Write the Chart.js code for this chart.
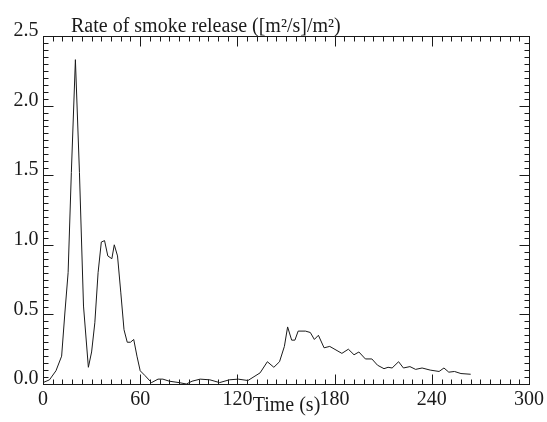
<!DOCTYPE html>
<html>
<head>
<meta charset="utf-8">
<script src="https://cdn.jsdelivr.net/npm/chart.js@4.4.0/dist/chart.umd.min.js"></script>
<style>
	html, body { margin: 0; padding: 0; background: #fff; }
	#wrap { width: 547px; height: 422px; position: relative; }
</style>
</head>
<body>
<div id="wrap"><canvas id="smoke_chart"></canvas></div>
<script>
// 시간(s)
const times = [0, 4, 8, 11.5, 13.5, 15.5, 17.5, 20, 22.5, 25, 28, 30, 32, 34, 36, 38, 40, 42.5, 44, 46,
	48, 50, 52, 54, 56, 58, 60, 63, 67, 71, 74, 78, 84, 88.5, 92, 97, 103, 109, 115, 120.5,
	126.5, 134, 138.5, 142.5, 146, 149, 151, 153.5, 155.5, 157.5, 162, 165, 167.5, 170, 173.5, 177, 181.5, 184.5, 188.5, 192,
	195, 199, 203, 206.5, 210.5, 213, 215.5, 219.5, 222.5, 226.5, 230, 234, 239, 244.5, 247.5, 250.5, 254, 258, 264];
// 연기 발생률 ([m²/s]/m²)
const rates = [0.01, 0.03, 0.095, 0.20, 0.51, 0.80, 1.52, 2.33, 1.52, 0.56, 0.12, 0.23, 0.44, 0.80, 1.02, 1.03, 0.92, 0.90, 1.00, 0.92,
	0.66, 0.39, 0.30, 0.30, 0.32, 0.20, 0.095, 0.06, 0.01, 0.035, 0.035, 0.02, 0.01, 0.0, 0.02, 0.035, 0.03, 0.01, 0.03, 0.035,
	0.025, 0.08, 0.16, 0.12, 0.16, 0.27, 0.41, 0.315, 0.315, 0.38, 0.38, 0.37, 0.32, 0.35, 0.26, 0.27, 0.24, 0.22, 0.25, 0.21,
	0.23, 0.18, 0.18, 0.135, 0.11, 0.12, 0.115, 0.16, 0.115, 0.125, 0.105, 0.115, 0.10, 0.09, 0.115, 0.085, 0.09, 0.075, 0.07];

// 눈금 라벨
const x_ticks = [0, 60, 120, 180, 240, 300];
const y_ticks = [0.0, 0.5, 1.0, 1.5, 2.0, 2.5];
const x_minor_step = 6;
const y_minor_step = 0.05;

const chart_title = 'Rate of smoke release ([m²/s]/m²)';
const x_title = 'Time (s)';

const serif_font = "20px 'Liberation Serif', 'DejaVu Serif', serif";
const ink = '#1a1a1a';

// 틀, 안쪽 눈금, 라벨을 그리는 플러그인
const framePlugin = {
	id: 'frame_plugin',
	afterDraw(chart) {
		const ctx = chart.ctx;
		const area = chart.chartArea;
		const xs = chart.scales.x;
		const ys = chart.scales.y;
		const L = Math.round(area.left) + 0.5;
		const R = Math.round(area.right) + 0.5;
		const T = Math.round(area.top) + 0.5;
		const B = Math.round(area.bottom) + 0.5;

		ctx.save();
		ctx.strokeStyle = ink;
		ctx.lineWidth = 1;
		ctx.strokeRect(L, T, R - L, B - T);

		ctx.beginPath();
		// x축 눈금 (위/아래)
		for (let v = 0; v <= 300 + 0.001; v += x_minor_step) {
			const px = Math.round(xs.getPixelForValue(v)) + 0.5;
			const len = (Math.round(v) % 60 === 0) ? 10 : 5;
			ctx.moveTo(px, B); ctx.lineTo(px, B - len);
			ctx.moveTo(px, T); ctx.lineTo(px, T + len);
		}
		// y축 눈금 (왼쪽/오른쪽)
		for (let i = 0; i <= 50; i++) {
			const v = i * y_minor_step;
			const py = Math.round(ys.getPixelForValue(v)) + 0.5;
			const len = (i % 10 === 0) ? 10 : 5;
			ctx.moveTo(L, py); ctx.lineTo(L + len, py);
			ctx.moveTo(R, py); ctx.lineTo(R - len, py);
		}
		ctx.stroke();

		ctx.fillStyle = ink;
		ctx.font = serif_font;
		// x 라벨
		ctx.textAlign = 'center';
		ctx.textBaseline = 'middle';
		x_ticks.forEach(v => {
			ctx.fillText(String(v), xs.getPixelForValue(v), 400);
		});
		// y 라벨
		ctx.textAlign = 'right';
		y_ticks.forEach(v => {
			ctx.fillText(v.toFixed(1), L - 5, ys.getPixelForValue(v) - 5);
		});
		// 축 제목
		ctx.textAlign = 'center';
		ctx.fillText(x_title, (L + R) / 2, 406);
		ctx.textAlign = 'left';
		ctx.fillText(chart_title, 71, 27);
		ctx.restore();
	}
};

const smoke_ctx = document.getElementById('smoke_chart').getContext('2d');
const smoke_chart = new Chart(smoke_ctx, {
	type: 'line',
	data: {
		datasets: [{
			data: times.map((t, i) => ({ x: t, y: rates[i] })),
			borderColor: ink,
			borderWidth: 1,
			pointRadius: 0,
			fill: false,
			tension: 0
		}]
	},
	options: {
		responsive: true,
		maintainAspectRatio: false,
		animation: false,
		events: [],
		layout: { padding: { left: 0, right: 18, top: 36, bottom: 0 } },
		plugins: {
			legend: { display: false },
			tooltip: { enabled: false }
		},
		scales: {
			x: {
				type: 'linear',
				min: 0,
				max: 300,
				grid: { display: false },
				border: { display: false },
				ticks: { display: false },
				afterFit(scale) { scale.height = 38; }
			},
			y: {
				min: 0,
				max: 2.5,
				grid: { display: false },
				border: { display: false },
				ticks: { display: false },
				afterFit(scale) { scale.width = 43; }
			}
		}
	},
	plugins: [framePlugin]
});
</script>
</body>
</html>
